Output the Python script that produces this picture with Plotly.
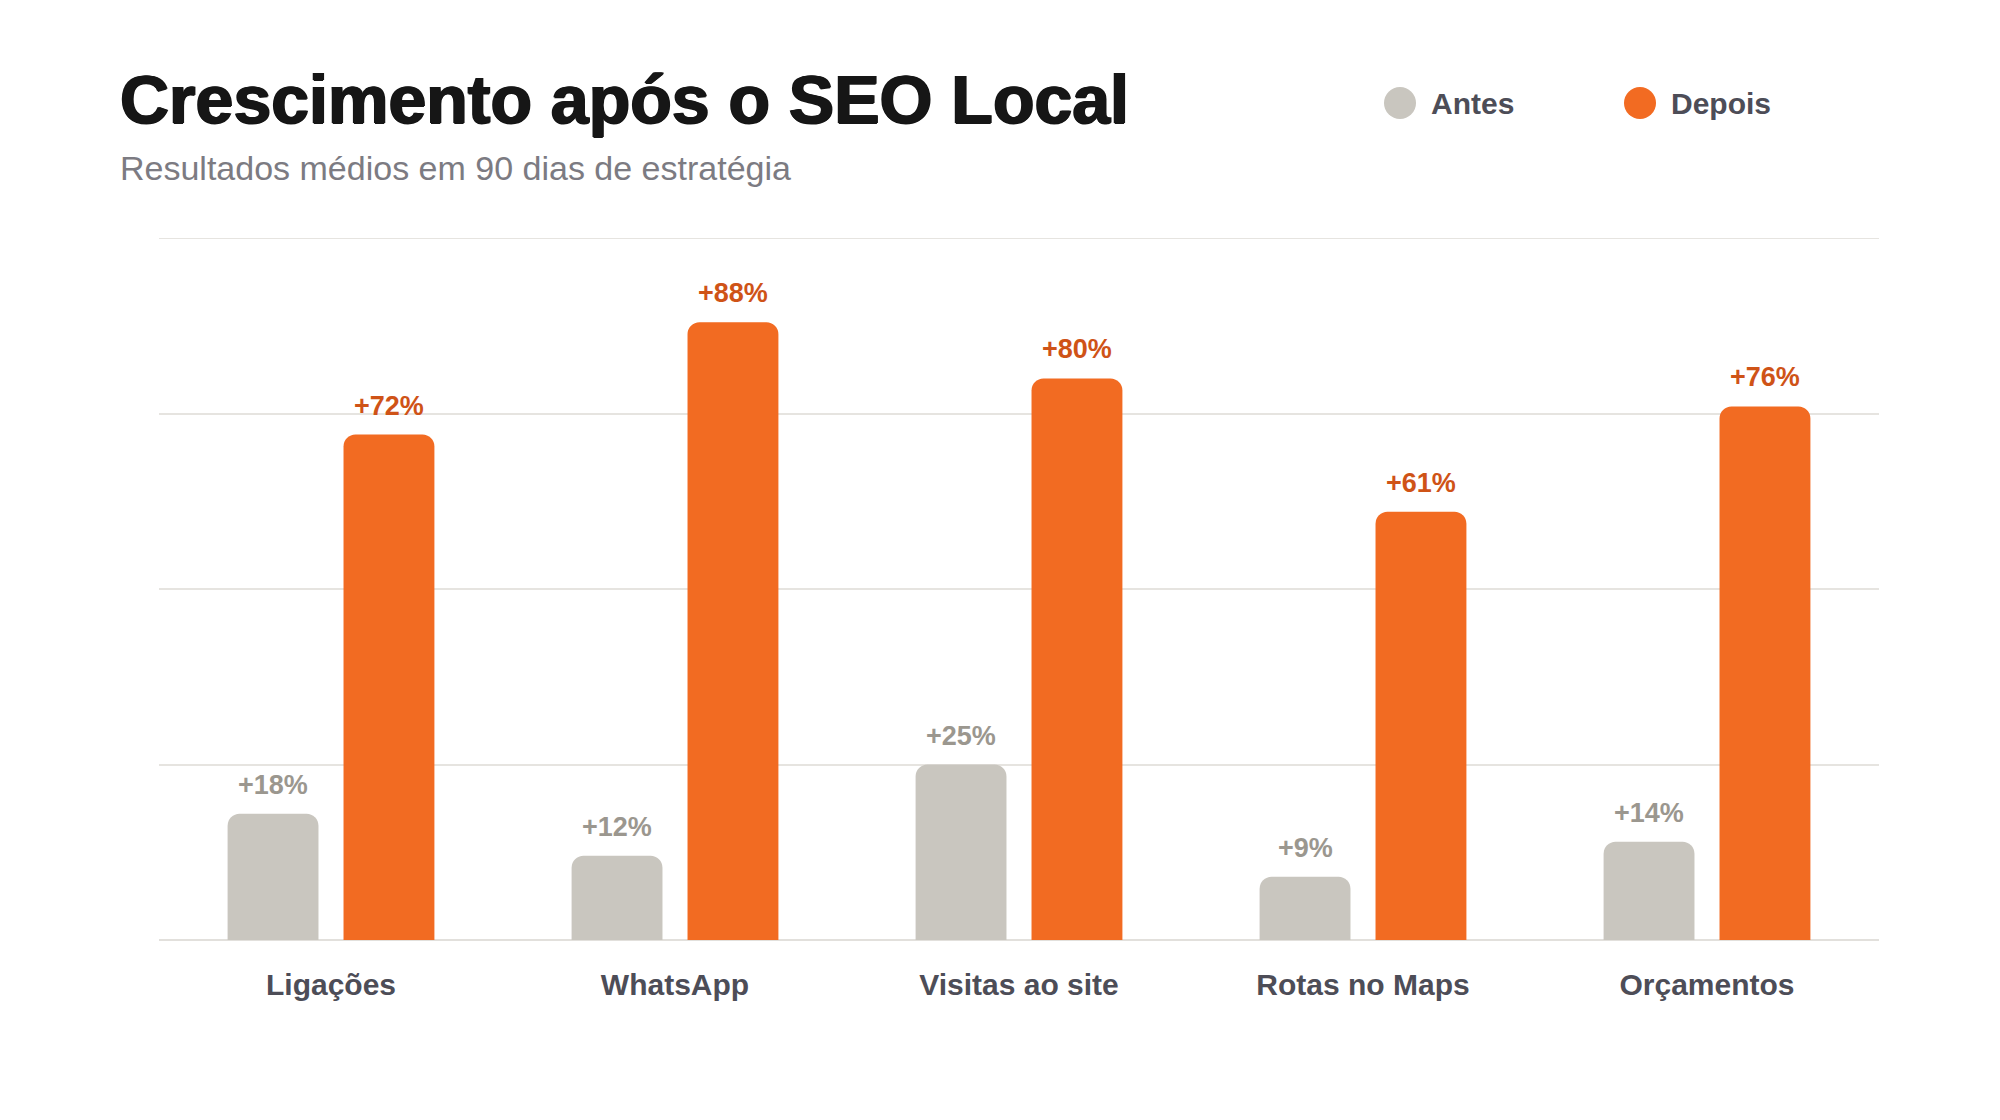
import plotly.graph_objects as go

categories = ["Ligações", "WhatsApp", "Visitas ao site", "Rotas no Maps", "Orçamentos"]
antes = [18, 12, 25, 9, 14]
depois = [72, 88, 80, 61, 76]
series_names = ["Antes", "Depois"]

C_ANTES = "#c9c6bf"
C_DEPOIS = "#f26b22"
C_ANTES_TXT = "#9b978f"
C_DEPOIS_TXT = "#cf5317"
C_DARK = "#4d4d57"
FONT = "Liberation Sans, Arial, sans-serif"

W, H = 2000, 1120
L, R, T, B = 159, 121, 238, 180
PW, PH = W - L - R, H - T - B

def px(x):
    return (x - L) / PW

def py(y):
    return (H - B - y) / PH

fig = go.Figure()
fig.add_trace(go.Bar(x=categories, y=antes, name=series_names[0], marker_color=C_ANTES,
                     marker_line_width=0, showlegend=False))
fig.add_trace(go.Bar(x=categories, y=depois, name=series_names[1], marker_color=C_DEPOIS,
                     marker_line_width=0, showlegend=False))

annotations = []
for c, a, d in zip(categories, antes, depois):
    annotations.append(dict(x=c, y=a, xref="x", yref="y", text=f"+{a}%", showarrow=False,
                            xshift=-58, yshift=29, yanchor="middle",
                            font=dict(family=FONT, size=27, color=C_ANTES_TXT, weight="bold")))
    annotations.append(dict(x=c, y=d, xref="x", yref="y", text=f"+{d}%", showarrow=False,
                            xshift=58, yshift=29, yanchor="middle",
                            font=dict(family=FONT, size=27, color=C_DEPOIS_TXT, weight="bold")))

# title and subtitle
annotations.append(dict(x=px(118), y=py(99), xref="paper", yref="paper", xanchor="left", yanchor="middle",
                        text="<b>Crescimento após o SEO Local</b>", showarrow=False,
                        font=dict(family=FONT, size=68, color="#161616",
                                  shadow="1px 0 0 #161616, -1px 0 0 #161616, 0 1px 0 #161616")))
annotations.append(dict(x=px(118), y=py(168), xref="paper", yref="paper", xanchor="left", yanchor="middle",
                        text="Resultados médios em 90 dias de estratégia", showarrow=False,
                        font=dict(family=FONT, size=34, color="#7c7b82")))

# legend
shapes = [dict(type="line", xref="paper", yref="y", x0=0, x1=1, y0=100, y1=100,
               line=dict(color="#e6e4e0", width=2), layer="below")]
for name, col, cx, tx in [(series_names[0], C_ANTES, 1400, 1429), (series_names[1], C_DEPOIS, 1640, 1669)]:
    shapes.append(dict(type="circle", xref="paper", yref="paper", xsizemode="pixel", ysizemode="pixel",
                       xanchor=px(cx), yanchor=py(103), x0=-16, x1=16, y0=-16, y1=16,
                       fillcolor=col, line_width=0))
    annotations.append(dict(x=px(tx), y=py(103), xref="paper", yref="paper", xanchor="left", yanchor="middle",
                            text=f"<b>{name}</b>", showarrow=False,
                            font=dict(family=FONT, size=30, color=C_DARK)))

fig.update_layout(
    width=W, height=H,
    margin=dict(l=L, r=R, t=T, b=B, pad=0),
    paper_bgcolor="white", plot_bgcolor="white",
    barmode="group", bargap=0.326, bargroupgap=0.216, barcornerradius=12,
    annotations=annotations, shapes=shapes,
    showlegend=False,
    font=dict(family=FONT),
)
fig.update_xaxes(showline=False, showgrid=False, ticks="", ticklabelstandoff=24,
                 tickfont=dict(family=FONT, size=30, color=C_DARK, weight="bold"))
fig.update_yaxes(range=[0, 100], dtick=25, showticklabels=False, showgrid=True,
                 gridcolor="#e6e4e0", gridwidth=2, zeroline=True, zerolinecolor="#e2e0dc",
                 zerolinewidth=2, showline=False)

fig.write_html("out.html")
